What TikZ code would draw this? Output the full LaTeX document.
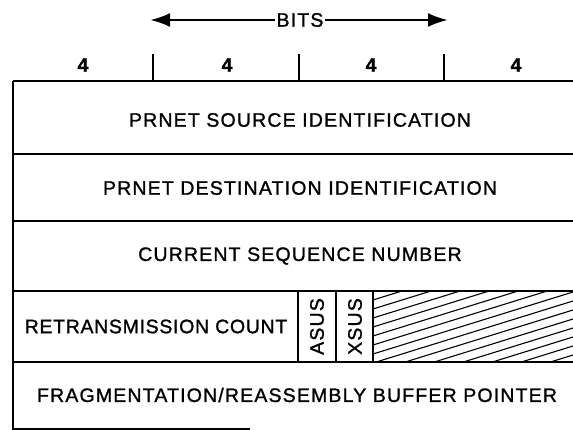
\documentclass[tikz,border=0pt]{standalone}
\usepackage{fontspec}
\setmainfont{Liberation Sans}[FakeBold=1.2]
\usetikzlibrary{arrows.meta}
\newcommand{\fld}[1]{{\addfontfeature{LetterSpace=6}#1}}

\begin{document}
\begin{tikzpicture}[x=1pt, y=-1pt, font=\fontsize{19.5}{19.5}\selectfont] % {{{
\useasboundingbox (0,0) rectangle (573,430);
\tikzset{rule/.style={line width=2.8pt}, thin rule/.style={line width=1.1pt}, lbl/.style={inner sep=1pt}}
% bit scale
\node[lbl] (bits) at (300,20) {\fld{BITS}};
\coordinate (bitsL) at (150,20);
\coordinate (bitsR) at (448,20);
\draw[line width=2.6pt, -{Latex[length=20pt,width=14pt]}] (bits.west) -- (bitsL);
\draw[line width=2.6pt, -{Latex[length=20pt,width=14pt]}] (bits.east) -- (bitsR);
\foreach \x/\n in {153/tA, 299/tB, 444/tC} {
	\coordinate (\n) at (\x,54);
	\draw[rule] (\n) -- (\x,81);
}
\foreach \x/\n in {83/nA, 227/nB, 371/nC, 516/nD} {
	\node[lbl] (\n) at (\x,65) {\bfseries 4};
}
% table frame
\draw[rule] (13,81) -- (573,81);
\draw[rule] (13,81) -- (13,430);
\foreach \y in {154,221,291,362} { \draw[rule] (13,\y) -- (573,\y); }
\draw[rule] (13,429) -- (250,429);
% rows
\node[lbl] (src) at (300,120) {\fld{PRNET SOURCE IDENTIFICATION}};
\node[lbl] (dst) at (300,188) {\fld{PRNET DESTINATION IDENTIFICATION}};
\node[lbl] (seq) at (300,256) {\fld{CURRENT SEQUENCE NUMBER}};
\node[lbl] (frag) at (297,395) {\fld{FRAGMENTATION/REASSEMBLY BUFFER POINTER}};
\begin{scope}[shift={(0,291)}]
	\draw[rule] (298,0) -- (298,71);
	\draw[rule] (336,0) -- (336,71);
	\draw[rule] (373,0) -- (373,71);
	\node[lbl] (retx) at (156,35.5) {\addfontfeature{LetterSpace=3.5}RETRANSMISSION COUNT};
	\node[lbl, rotate=90] (asus) at (317,35.5) {\fld{ASUS}};
	\node[lbl, rotate=90] (xsus) at (355,35.5) {\fld{XSUS}};
	\begin{scope}
		\clip (374,1) rectangle (573,70);
		\foreach \k in {0,...,16} { \draw[thin rule] (373,9*\k) -- (573,9*\k-62); }
	\end{scope}
\end{scope}
\end{tikzpicture} % }}}
\end{document}
